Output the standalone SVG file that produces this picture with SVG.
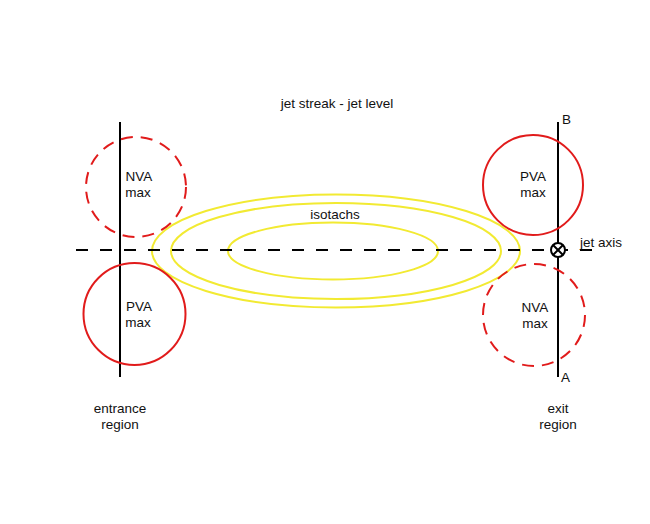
<svg xmlns="http://www.w3.org/2000/svg" width="650" height="524" viewBox="0 0 650 524">
<style>
text{font-family:"Liberation Sans",Arial,sans-serif;font-size:13.5px;fill:#111}
.c{text-anchor:middle}
.red{fill:none;stroke:#e11b1b;stroke-width:2}
.dash{stroke-dasharray:12 8}
.yel{fill:none;stroke:#f2ea32;stroke-width:2}
.blk{stroke:#000;stroke-width:2;fill:none}
</style>
<rect width="650" height="524" fill="#fff"/>
<text class="c" x="337" y="108">jet streak - jet level</text>
<g id="isotachs">
<ellipse class="yel" cx="336" cy="251" rx="184" ry="56.5"/>
<ellipse class="yel" cx="336" cy="251" rx="165" ry="48"/>
<ellipse class="yel" cx="333" cy="251" rx="105" ry="28.5"/>
<text class="c" x="335" y="219">isotachs</text>
</g>
<g id="connectors">
<line class="blk" x1="120" y1="122" x2="120" y2="377"/>
<line class="blk" x1="558" y1="122" x2="558" y2="377"/>
<line class="blk" x1="76" y1="250" x2="592" y2="250" stroke-dasharray="12 12"/>
</g>
<g id="nva-entrance">
<circle class="red dash" cx="136" cy="187" r="50"/>
<text class="c" x="139" y="181">NVA</text>
<text class="c" x="138" y="197">max</text>
</g>
<g id="pva-entrance">
<circle class="red" cx="134.5" cy="314" r="51"/>
<text class="c" x="139" y="311">PVA</text>
<text class="c" x="138" y="327">max</text>
</g>
<g id="pva-exit">
<circle class="red" cx="533" cy="185" r="50"/>
<text class="c" x="533" y="181">PVA</text>
<text class="c" x="533" y="197">max</text>
</g>
<g id="nva-exit">
<circle class="red dash" cx="534" cy="315" r="51"/>
<text class="c" x="535" y="312">NVA</text>
<text class="c" x="535" y="328">max</text>
</g>
<g id="jet-axis">
<circle cx="558" cy="250" r="7" fill="#fff" stroke="#000" stroke-width="2"/>
<line class="blk" x1="553" y1="245" x2="563" y2="255"/>
<line class="blk" x1="563" y1="245" x2="553" y2="255"/>
<text x="580" y="247">jet axis</text>
</g>
<text x="562" y="124">B</text>
<text x="561" y="382">A</text>
<g id="entrance-label">
<text class="c" x="120" y="413">entrance</text>
<text class="c" x="120" y="429">region</text>
</g>
<g id="exit-label">
<text class="c" x="558" y="413">exit</text>
<text class="c" x="558" y="429">region</text>
</g>
</svg>
